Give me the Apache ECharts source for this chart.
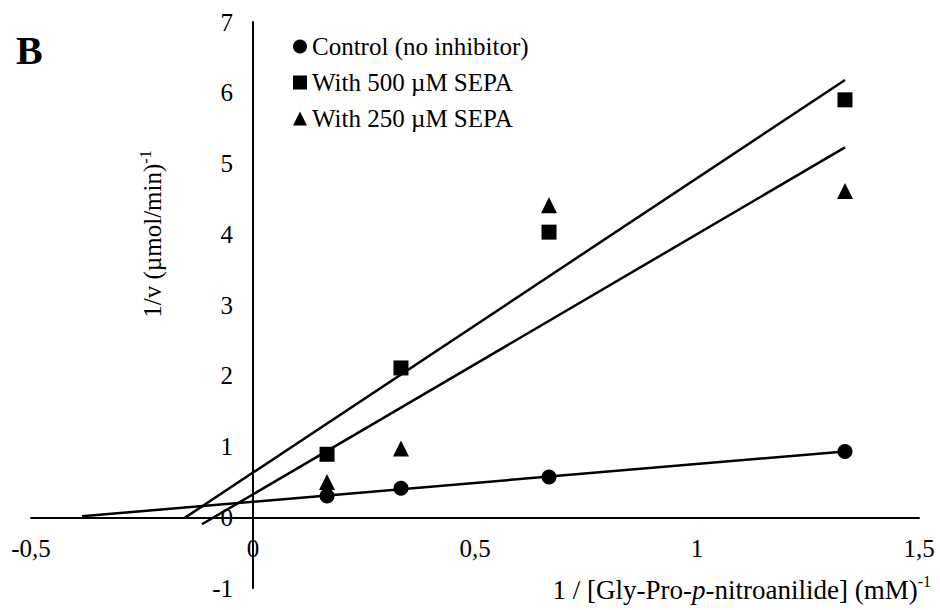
<!DOCTYPE html>
<html>
<head>
<meta charset="utf-8">
<script src="https://cdn.jsdelivr.net/npm/echarts@6/dist/echarts.min.js"></script>
<style>html,body{margin:0;padding:0;background:#fff}#c{width:940px;height:610px}</style>
</head>
<body>
<div id="c"></div>
<script>
// ---- data ----
const xValues = [0.1667, 0.3333, 0.6667, 1.3333];           // 1/[S] (mM^-1)
const controlY = [0.30, 0.41, 0.57, 0.93];                  // control 1/v
const sepa500Y = [0.89, 2.11, 4.03, 5.90];                  // 500 uM SEPA
const sepa250Y = [0.50, 0.97, 4.41, 4.61];                  // 250 uM SEPA
const seriesNames = ['Control (no inhibitor)', 'With 500 µM SEPA', 'With 250 µM SEPA'];
const trendStartX = [-0.385, -0.153, -0.115];               // backward forecast of trend lines
const xTicks = [-0.5, 0, 0.5, 1, 1.5];
const yTicks = [-1, 0, 1, 2, 3, 4, 5, 6, 7];

const FONT = 'Liberation Serif, Times New Roman, serif';

function fit(xs, ys) {
  const n = xs.length;
  const mx = xs.reduce((a, b) => a + b, 0) / n;
  const my = ys.reduce((a, b) => a + b, 0) / n;
  let sxy = 0, sxx = 0;
  for (let i = 0; i < n; i++) { sxy += (xs[i] - mx) * (ys[i] - my); sxx += (xs[i] - mx) ** 2; }
  const m = sxy / sxx;
  return { m, b: my - m * mx };
}
function trend(ys, x0) {
  const f = fit(xValues, ys);
  const x1 = xValues[xValues.length - 1];
  return [[x0, f.m * x0 + f.b], [x1, f.m * x1 + f.b]];
}
const pts = ys => xValues.map((x, i) => [x, ys[i]]);

const symbols = ['circle', 'rect', 'triangle'];
const allY = [controlY, sepa500Y, sepa250Y];

const series = [];
allY.forEach((ys, i) => {
  series.push({
    type: 'line', data: trend(ys, trendStartX[i]), showSymbol: false, symbol: 'none',
    lineStyle: { color: '#000', width: 2.5 }, silent: true, z: 2, animation: false
  });
});
allY.forEach((ys, i) => {
  series.push({
    name: seriesNames[i], type: 'scatter', data: pts(ys), symbol: symbols[i],
    symbolSize: symbols[i] === 'triangle' ? 16 : 15,
    itemStyle: { color: '#000', opacity: 1 }, z: 5, animation: false
  });
});

// grid geometry (pixels)
const G = { left: 31, right: 21, top: 22, bottom: 22 };
const plotW = 940 - G.left - G.right, plotH = 610 - G.top - G.bottom;
const xMin = xTicks[0], xMax = xTicks[xTicks.length - 1];
const yMin = yTicks[0], yMax = yTicks[yTicks.length - 1];
// shift axes so they cross at zero
const yAxisOffset = -plotW * (0 - xMin) / (xMax - xMin);
const xAxisOffset = -plotH * (0 - yMin) / (yMax - yMin);

const chart = echarts.init(document.getElementById('c'), null, { renderer: 'svg' });
chart.setOption({
  animation: false,
  backgroundColor: '#fff',
  grid: Object.assign({ containLabel: false, outerBoundsMode: 'none' }, G),
  xAxis: {
    type: 'value', min: xMin, max: xMax, interval: 0.5, position: 'bottom', offset: xAxisOffset,
    axisLine: { onZero: false, lineStyle: { color: '#000', width: 2 } },
    axisTick: { show: false }, splitLine: { show: false },
    axisLabel: {
      margin: 19, color: '#000', fontFamily: FONT, fontSize: 25,
      showMinLabel: true, showMaxLabel: true,
      formatter: v => String(v).replace('.', ',')
    }
  },
  yAxis: {
    type: 'value', min: yMin, max: yMax, interval: 1, position: 'left', offset: yAxisOffset,
    axisLine: { onZero: false, lineStyle: { color: '#000', width: 2 } },
    axisTick: { show: false }, splitLine: { show: false },
    axisLabel: { margin: 20, color: '#000', fontFamily: FONT, fontSize: 25, showMinLabel: true, showMaxLabel: true }
  },
  legend: {
    orient: 'vertical', left: 293, top: 34, padding: 0, itemGap: 11,
    itemWidth: 14, itemHeight: 14,
    data: seriesNames.map((n, i) => ({ name: n, icon: symbols[i], itemStyle: { color: '#000', opacity: 1 } })),
    textStyle: { color: '#000', fontFamily: FONT, fontSize: 25, lineHeight: 24 },
    selectedMode: false
  },
  graphic: [
    {
      type: 'text', left: 16, top: 30,
      style: { text: 'B', font: 'bold 40px ' + FONT, fill: '#000' }
    },
    {
      type: 'text', x: 151, y: 234, rotation: Math.PI / 2,
      style: {
        text: '{m|1/v (µmol/min)}{s|-1}',
        align: 'center', verticalAlign: 'middle', fill: '#000',
        rich: {
          m: { fontFamily: FONT, fontSize: 25, lineHeight: 28, verticalAlign: 'bottom', fill: '#000' },
          s: { fontFamily: FONT, fontSize: 16, lineHeight: 28, verticalAlign: 'top', fill: '#000' }
        }
      }
    },
    {
      type: 'text', x: 931, y: 588,
      style: {
        text: '{m|1 / [Gly-Pro-}{i|p}{m|-nitroanilide] (mM)}{s|-1}',
        align: 'right', verticalAlign: 'middle', fill: '#000',
        rich: {
          m: { fontFamily: FONT, fontSize: 27, lineHeight: 30, verticalAlign: 'bottom', fill: '#000' },
          i: { fontFamily: FONT, fontSize: 27, fontStyle: 'italic', lineHeight: 30, verticalAlign: 'bottom', fill: '#000' },
          s: { fontFamily: FONT, fontSize: 16, lineHeight: 30, verticalAlign: 'top', fill: '#000' }
        }
      }
    }
  ],
  series
});
</script>
</body>
</html>
